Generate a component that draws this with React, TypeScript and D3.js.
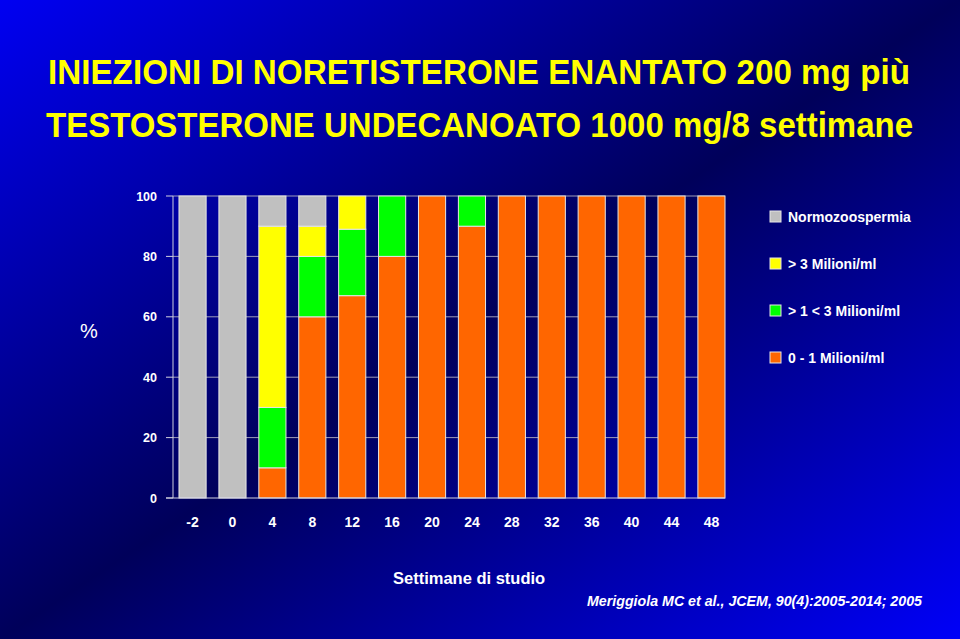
import * as d3 from 'd3';
import { useLayoutEffect, useRef, useState } from 'react';

const WIDTH = 960;
const HEIGHT = 639;

const TITLE_LINES = [
    'INIEZIONI DI NORETISTERONE ENANTATO 200 mg più',
    'TESTOSTERONE UNDECANOATO 1000 mg/8 settimane',
];

// weeks of study
const weeks = ['-2', '0', '4', '8', '12', '16', '20', '24', '28', '32', '36', '40', '44', '48'];

// percentage of subjects per category (bottom to top)
const range0to1 = [0, 0, 10, 60, 67, 80, 100, 90, 100, 100, 100, 100, 100, 100];
const range1to3 = [0, 0, 20, 20, 22, 20, 0, 10, 0, 0, 0, 0, 0, 0];
const above3 = [0, 0, 60, 10, 11, 0, 0, 0, 0, 0, 0, 0, 0, 0];
const normo = [100, 100, 10, 10, 0, 0, 0, 0, 0, 0, 0, 0, 0, 0];

const seriesKeys = ['r01', 'r13', 'a3', 'normo'];
const seriesColors = ['#ff6600', '#00ff00', '#ffff00', '#c0c0c0'];

// legend, top to bottom
const legendLabels = ['Normozoospermia', '> 3 Milioni/ml', '> 1 < 3 Milioni/ml', '0 - 1 Milioni/ml'];
const legendColors = ['#c0c0c0', '#ffff00', '#00ff00', '#ff6600'];

const yTicks = [0, 20, 40, 60, 80, 100];

const PLOT = { left: 173, right: 731, top: 196, bottom: 498 };

// title line squeezed horizontally to look like a narrow font
function NarrowLine({ text, x, y, width }: { text: string; x: number; y: number; width: number }) {
    const ref = useRef<SVGTextElement>(null);
    const [sx, setSx] = useState(0.8);
    useLayoutEffect(() => {
        if (ref.current) {
            const w = ref.current.getComputedTextLength();
            if (w > 0) setSx(width / w);
        }
    }, [text, width]);
    return (
        <text
            ref={ref}
            transform={`translate(${x},${y}) scale(${sx},1)`}
            fill="#ffff00"
            fontFamily='"Liberation Sans Narrow", "Arial Narrow", "Liberation Sans", sans-serif'
            fontWeight="bold"
            fontSize={36}
        >
            {text}
        </text>
    );
}

export default function App() {
    const table = weeks.map((w, i) => ({
        week: w,
        r01: range0to1[i],
        r13: range1to3[i],
        a3: above3[i],
        normo: normo[i],
    }));

    const stacked = d3.stack<any>().keys(seriesKeys)(table);

    const x = d3
        .scaleBand()
        .domain(weeks)
        .range([PLOT.left, PLOT.right])
        .paddingInner(0.32)
        .paddingOuter(0.15);

    const y = d3.scaleLinear().domain([0, 100]).range([PLOT.bottom, PLOT.top]);

    const font = '"Liberation Sans", Arial, sans-serif';

    return (
        <svg
            width={WIDTH}
            height={HEIGHT}
            style={{ display: 'block', position: 'absolute', left: 0, top: 0 }}
        >
            <defs>
                <linearGradient id="bg" x1="0" y1="0" x2="1" y2="1">
                    <stop offset="0" stopColor="#0000f2" />
                    <stop offset="0.5" stopColor="#00005a" />
                    <stop offset="1" stopColor="#0000f8" />
                </linearGradient>
            </defs>
            <rect x={0} y={0} width={WIDTH} height={HEIGHT} fill="url(#bg)" />

            <NarrowLine text={TITLE_LINES[0]} x={48} y={84} width={862} />
            <NarrowLine text={TITLE_LINES[1]} x={46} y={137} width={867} />

            {/* gridlines */}
            {yTicks
                .filter((t) => t > 0)
                .map((t) => (
                    <line
                        key={t}
                        x1={PLOT.left}
                        x2={PLOT.right - 6}
                        y1={y(t)}
                        y2={y(t)}
                        stroke="#9c9cb8"
                        strokeWidth={1}
                    />
                ))}

            {/* bars */}
            {stacked.map((s, si) => (
                <g key={s.key} fill={seriesColors[si]}>
                    {s.map((d, i) =>
                        d[1] - d[0] > 0 ? (
                            <rect
                                key={i}
                                x={x(weeks[i])}
                                y={y(d[1])}
                                width={x.bandwidth()}
                                height={y(d[0]) - y(d[1])}
                                stroke="#e6e6e6"
                                strokeWidth={1}
                            />
                        ) : null
                    )}
                </g>
            ))}

            {/* axes */}
            <line x1={PLOT.left} x2={PLOT.left} y1={PLOT.top} y2={PLOT.bottom} stroke="#d0d0e0" />
            <line x1={PLOT.left - 7} x2={PLOT.right - 6} y1={PLOT.bottom} y2={PLOT.bottom} stroke="#d0d0e0" />
            {yTicks.map((t) => (
                <g key={t}>
                    <line x1={PLOT.left - 7} x2={PLOT.left} y1={y(t)} y2={y(t)} stroke="#d0d0e0" />
                    <text
                        x={157}
                        y={y(t) + 4.5}
                        textAnchor="end"
                        fill="#ffffff"
                        fontFamily={font}
                        fontWeight="bold"
                        fontSize={12.5}
                    >
                        {t}
                    </text>
                </g>
            ))}
            {weeks.map((w) => (
                <text
                    key={w}
                    x={(x(w) ?? 0) + x.bandwidth() / 2}
                    y={527}
                    textAnchor="middle"
                    fill="#ffffff"
                    fontFamily={font}
                    fontWeight="bold"
                    fontSize={14}
                >
                    {w}
                </text>
            ))}

            <text x={80} y={338} fill="#ffffff" fontFamily={font} fontSize={20}>
                %
            </text>

            <text x={393} y={584} fill="#ffffff" fontFamily={font} fontWeight="bold" fontSize={16.5}>
                Settimane di studio
            </text>

            <text
                x={587}
                y={606}
                fill="#ffffff"
                fontFamily={font}
                fontWeight="bold"
                fontStyle="italic"
                fontSize={14}
                textLength={335}
                lengthAdjust="spacingAndGlyphs"
            >
                Meriggiola MC et al., JCEM, 90(4):2005-2014; 2005
            </text>

            {/* legend */}
            {legendLabels.map((l, i) => (
                <g key={l} transform={`translate(770, ${211 + i * 47})`}>
                    <rect width={11} height={11} fill={legendColors[i]} stroke="#e6e6e6" strokeWidth={1} />
                    <text x={18} y={10.5} fill="#ffffff" fontFamily={font} fontWeight="bold" fontSize={14}>
                        {l}
                    </text>
                </g>
            ))}
        </svg>
    );
}
